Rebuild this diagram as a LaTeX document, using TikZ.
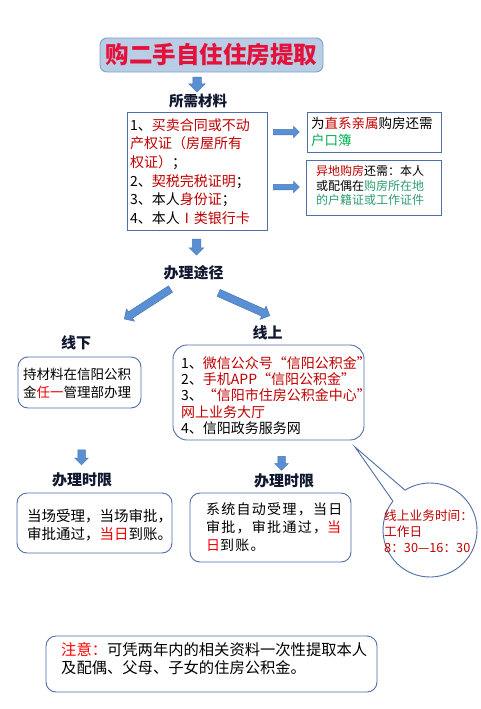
\documentclass[tikz,border=0pt]{standalone}
\usepackage{fontspec}
\setmainfont{Noto Sans CJK SC}
\newfontfamily\spfont{Noto Sans CJK SC}[LetterSpace=9]
\usetikzlibrary{shapes.arrows,shapes.callouts}
\definecolor{boxline}{HTML}{4F6EAA}
\definecolor{titlefill}{HTML}{B9CDE5}
\definecolor{titleline}{HTML}{7F9FCF}
\definecolor{titlered}{HTML}{E4113B}
\definecolor{arrowfill}{HTML}{5B8FD4}
\definecolor{arrowedge}{HTML}{4A78B8}
\definecolor{dred}{HTML}{C00000}
\definecolor{brred}{HTML}{F00000}
\definecolor{grn}{HTML}{00B050}
\definecolor{grntwo}{HTML}{2E9E6E}
\definecolor{headcol}{HTML}{101830}
\tikzset{
  box/.style={draw=boxline, line width=0.9pt, fill=white, inner sep=0pt},
  rbox/.style={box, rounded corners=10pt},
  hdr/.style={inner sep=0pt, font=\fontsize{15}{15}\selectfont\bfseries, text=headcol},
  txt/.style={inner sep=0pt, anchor=west, align=left},
  blkarrow/.style={single arrow, draw=arrowedge, fill=arrowfill, line width=0.5pt,
    inner xsep=0pt, minimum width=0pt, single arrow head indent=0pt}
}
\begin{document}
\begin{tikzpicture}[x=1pt,y=-1pt]
\fill[white] (0,0) rectangle (481,709);
\useasboundingbox (0,0) rectangle (481,709);

% title
\node[box, fill=titlefill, draw=titleline, rounded corners=7pt,
  minimum width=223pt, minimum height=34pt,
  font=\fontsize{23.5}{24}\selectfont\bfseries, text=titlered] (title) at (211.5,55) {购二手自住住房提取};
\node[blkarrow, inner ysep=4pt, single arrow head extend=4pt, minimum height=15pt, rotate=-90] (a1) at (197,82.5) {};

\node[hdr, font=\fontsize{14.5}{15}\selectfont\bfseries] (hmat) at (198,101) {所需材料};

% materials
\node[box, minimum width=140pt, minimum height=118pt] (mat) at (197,171) {};
\node[txt, font=\fontsize{14}{18.6}\selectfont] (mattxt) at (130,171.5) {1、\textcolor{dred}{买卖合同或不动}\\
\textcolor{dred}{产权证（房屋所有}\\
\textcolor{dred}{权证）}；\\
2、\textcolor{dred}{契税完税证明}；\\
3、本人\textcolor{dred}{身份证}；\\
4、本人\textcolor{dred}{Ⅰ类银行卡}};

\node[blkarrow, inner ysep=2.5pt, single arrow head extend=3pt, minimum height=26pt] (r1) at (285,132) {};
\node[blkarrow, inner ysep=2.5pt, single arrow head extend=3pt, minimum height=26pt] (r2) at (285,187) {};

\node[box, minimum width=134pt, minimum height=40pt] (b1) at (374,132) {};
\node[txt, font=\fontsize{13.5}{17}\selectfont] (b1txt) at (311,131.5) {为\textcolor{dred}{直系亲属}购房还需\\\textcolor{grn}{户口簿}};

\node[box, minimum width=135pt, minimum height=55pt] (b2) at (373.5,187.5) {};
\node[txt, font=\fontsize{12}{14.5}\selectfont] (b2txt) at (316,185.5) {\textcolor{dred}{异地购房}还需：本人\\或配偶在\textcolor{grntwo}{购房所在地}\\\textcolor{grntwo}{的户籍证或工作证件}};

% ways
\node[blkarrow, inner ysep=4pt, single arrow head extend=3pt, minimum height=16pt, rotate=-90] (a2) at (196.5,245) {};
\node[hdr] (hway) at (193.5,273) {办理途径};
\node[blkarrow, inner ysep=3.5pt, single arrow head extend=3.5pt, minimum height=55pt, rotate=213] (dl) at (149,303) {};
\node[blkarrow, inner ysep=3.5pt, single arrow head extend=3.5pt, minimum height=56pt, rotate=-24] (dr) at (242.5,303.5) {};

\node[hdr] (hxia) at (76,343) {线下};
\node[hdr] (hshang) at (267.5,333) {线上};

\node[rbox, minimum width=123pt, minimum height=51pt] (xia) at (79.5,382.5) {};
\node[txt, font=\fontsize{13.5}{18}\selectfont] (xiatxt) at (23,383) {持材料在信阳公积\\金\textcolor{brred}{任一}管理部办理};

% callout
\coordinate (tip) at (355,447);
\node[ellipse callout, draw=boxline, fill=white, line width=0.9pt, minimum width=94pt, minimum height=94pt,
  inner sep=0pt, callout absolute pointer={(tip)}, callout pointer arc=20] (bubble) at (430,530) {};
\node[txt, font=\fontsize{12.7}{16}\selectfont, text=dred] (bubtxt) at (384,531) {线上业务时间：\\工作日\\8：30—16：30};

\node[rbox, rounded corners=14pt, minimum width=191pt, minimum height=95pt] (shang) at (268.5,392.5) {};
\node[txt, font=\fontsize{14}{16.25}\selectfont] (shangtxt) at (181,395.5) {1、\textcolor{dred}{微信公众号“信阳公积金”}\\2、\textcolor{dred}{手机APP“信阳公积金”}\\3、\textcolor{dred}{“信阳市住房公积金中心”}\\\textcolor{dred}{网上业务大厅}\\4、信阳政务服务网};

% time limits
\node[blkarrow, inner ysep=3.5pt, single arrow head extend=3pt, minimum height=15pt, rotate=-90] (a3) at (81.5,455.5) {};
\node[blkarrow, inner ysep=3.5pt, single arrow head extend=3pt, minimum height=14pt, rotate=-90] (a4) at (281.5,461.5) {};
\node[hdr] (htl) at (82,480) {办理时限};
\node[hdr] (htr) at (284,481) {办理时限};

\node[rbox, minimum width=155pt, minimum height=60pt] (tl) at (94.5,523) {};
\node[txt, font=\fontsize{14.5}{18}\selectfont] (tltxt) at (27,525) {当场受理，当场审批，\\审批通过，\textcolor{brred}{当日}到账。};

\node[rbox, minimum width=161pt, minimum height=69pt] (tr) at (270.5,527.5) {};
\node[txt, font=\spfont\fontsize{14}{18}\selectfont] (trtxt) at (206,527) {系统自动受理，当日\\审批，审批通过，\textcolor{brred}{当}\\\textcolor{brred}{日}到账。};

% note
\node[rbox, minimum width=331pt, minimum height=56pt] (note) at (211.5,664) {};
\node[txt, font=\fontsize{15.3}{17.5}\selectfont] (notetxt) at (61,658.5) {\textcolor{red}{注意：}可凭两年内的相关资料一次性提取本人\\及配偶、父母、子女的住房公积金。};
\end{tikzpicture}
\end{document}
